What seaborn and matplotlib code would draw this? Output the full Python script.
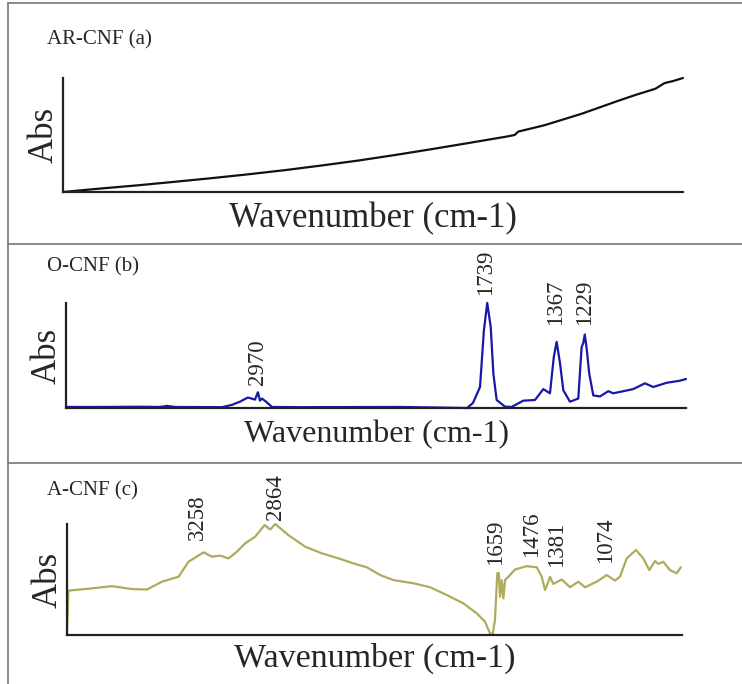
import matplotlib
matplotlib.use("Agg")
import matplotlib.pyplot as plt
from matplotlib.lines import Line2D
import seaborn as sns

# ---- data (wavenumber, relative absorbance) ----
ar_wn = [4000, 3800, 3600, 3400, 3200, 3000, 2800, 2600, 2400, 2200, 2000,
         1800, 1600, 1560, 1540, 1400, 1200, 1000, 900, 800, 750, 700, 650]
ar_abs = [0.0, 0.03, 0.058, 0.089, 0.121, 0.155, 0.192, 0.233, 0.277, 0.326, 0.378,
          0.432, 0.487, 0.50, 0.53, 0.585, 0.685, 0.80, 0.855, 0.905, 0.955, 0.975, 1.0]

o_wn = [4000, 3816, 3600, 3492, 3454, 3411, 3157, 3103, 3060, 3017, 2979, 2963,
        2952, 2941, 2919, 2887, 2736, 2195, 1833, 1801, 1763, 1742, 1724, 1705,
        1691, 1673, 1628, 1592, 1529, 1466, 1421, 1385, 1364, 1349, 1331, 1313,
        1277, 1232, 1214, 1205, 1197, 1187, 1173, 1151, 1115, 1070, 1043, 935,
        872, 827, 755, 683, 650]
o_abs = [0.01, 0.01, 0.012, 0.01, 0.02, 0.01, 0.008, 0.03, 0.06, 0.10, 0.08, 0.15,
         0.07, 0.09, 0.06, 0.01, 0.008, 0.01, 0.0, 0.048, 0.20, 0.74, 1.0, 0.77,
         0.33, 0.076, 0.013, 0.01, 0.07, 0.076, 0.18, 0.14, 0.49, 0.63, 0.43, 0.17,
         0.06, 0.09, 0.58, 0.62, 0.70, 0.57, 0.33, 0.12, 0.11, 0.16, 0.14, 0.18,
         0.235, 0.20, 0.24, 0.26, 0.276]
o_labels = ["2970", "1739", "1367", "1229"]
o_label_wn = [2963, 1731, 1353, 1199]
o_label_y = [0.22, 1.076, 0.79, 0.79]

a_wn = [4000, 3992, 3882, 3755, 3646, 3564, 3483, 3392, 3338, 3256, 3211, 3165,
        3120, 3075, 3029, 2975, 2924, 2893, 2866, 2794, 2703, 2612, 2521, 2430,
        2367, 2294, 2222, 2113, 2022, 1931, 1841, 1768, 1723, 1696, 1681, 1669,
        1656, 1648, 1641, 1632, 1623, 1614, 1587, 1560, 1496, 1441, 1414, 1396,
        1378, 1369, 1351, 1305, 1260, 1215, 1178, 1115, 1060, 1015, 988, 951,
        901, 861, 828, 797, 779, 752, 716, 679, 656]
a_abs = [0.02, 0.40, 0.417, 0.44, 0.414, 0.41, 0.48, 0.525, 0.66, 0.745, 0.706, 0.715,
         0.69, 0.75, 0.826, 0.886, 0.99, 0.95, 1.0, 0.90, 0.796, 0.736, 0.69, 0.64,
         0.61, 0.54, 0.495, 0.466, 0.43, 0.36, 0.285, 0.195, 0.12, 0.015, 0.01, 0.135,
         0.556, 0.56, 0.345, 0.495, 0.33, 0.495, 0.54, 0.59, 0.62, 0.61, 0.525, 0.405,
         0.48, 0.525, 0.46, 0.50, 0.43, 0.48, 0.43, 0.48, 0.54, 0.49, 0.525, 0.69,
         0.766, 0.69, 0.585, 0.667, 0.64, 0.66, 0.585, 0.556, 0.61]
a_labels = ["3258", "2864", "1659", "1476", "1381", "1074"]
a_label_wn = [3288, 2866, 1663, 1467, 1336, 1064]
a_label_y = [0.856, 1.036, 0.63, 0.70, 0.61, 0.65]

# ---- styling ----
sns.set_theme(style="white")
plt.rcParams["font.family"] = ["Liberation Serif", "DejaVu Serif"]

W, H = 742, 684
fig = plt.figure(figsize=(W / 100, H / 100), dpi=100)


def px_axes(l, t, r, b):
    return fig.add_axes([l / W, 1 - b / H, (r - l) / W, (b - t) / H])


def style_axes(ax, xfs, xpad):
    ax.set_xlim(4000, 650)
    ax.set_ylim(0, 1.0)
    ax.set_xticks([])
    ax.set_yticks([])
    for s in ["top", "right"]:
        ax.spines[s].set_visible(False)
    for s in ["left", "bottom"]:
        ax.spines[s].set_color("#222222")
        ax.spines[s].set_linewidth(1.6)
    ax.set_xlabel("Wavenumber (cm-1)", fontsize=xfs, labelpad=xpad)
    ax.set_ylabel("Abs", fontsize=25, labelpad=2)
    ax.set_facecolor("none")


panels = [
    ("AR-CNF (a)", ar_wn, ar_abs, "#111111", (63, 78, 683, 192), 40, [], [], []),
    ("O-CNF (b)", o_wn, o_abs, "#1818a8", (66, 303, 686, 408), 267,
     o_labels, o_label_wn, o_label_y),
    ("A-CNF (c)", a_wn, a_abs, "#b0ab5c", (67, 524, 682, 635), 491,
     a_labels, a_label_wn, a_label_y),
]
xfs = [25, 23, 24.5]
xpads = [7, 8.5, 5.5]

for i, (name, wn, ab, col, box, label_y, labs, lwn, ly) in enumerate(panels):
    ax = px_axes(*box)
    sns.lineplot(x=wn, y=ab, ax=ax, color=col, linewidth=1.6)
    for clip_line in ax.lines:
        clip_line.set_clip_on(False)
    style_axes(ax, xfs[i], xpads[i])
    for t, xw, yv in zip(labs, lwn, ly):
        ax.text(xw, yv, t, rotation=90, ha="center", va="bottom",
                fontsize=16.5, clip_on=False)
    fig.text(47 / W, 1 - label_y / H, name, fontsize=15, va="center", ha="left")

# frame and separators
frame_col = "#777777"
for y in [3, 244, 463]:
    fig.add_artist(Line2D([8 / W, 1.0], [1 - y / H, 1 - y / H],
                          color=frame_col, lw=1.2))
fig.add_artist(Line2D([8 / W, 8 / W], [0, 1 - 3 / H], color=frame_col, lw=1.2))

fig.savefig("out.png", dpi=100, facecolor="white")
